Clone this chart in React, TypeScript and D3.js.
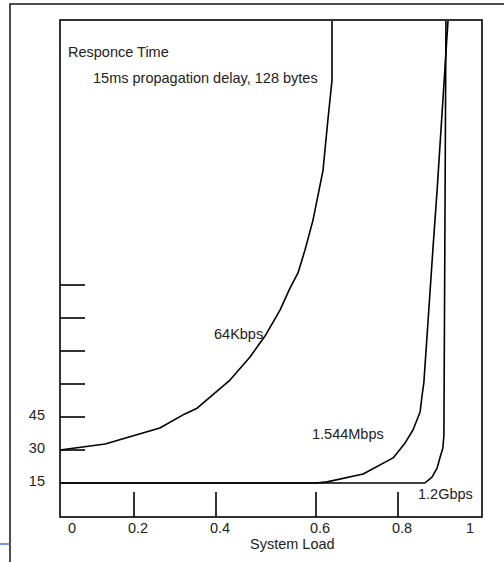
import { useRef, useEffect } from 'react';
import * as d3 from 'd3';

// System load vs response time (ms)
const load64k = [0, 0.122, 0.263, 0.324, 0.354, 0.428, 0.468, 0.498, 0.528, 0.548, 0.564, 0.578, 0.594, 0.617, 0.629, 0.639, 0.639];
const resp64k = [30, 32.7, 40, 46.4, 49, 61.8, 72.3, 81.8, 93.6, 103.6, 110.5, 120.9, 134.5, 157, 180, 198, 225];

const loadT1 = [0, 0.6, 0.627, 0.715, 0.788, 0.821, 0.844, 0.865, 0.871, 0.876, 0.888, 0.903, 0.915, 0.947];
const respT1 = [15, 15, 15.5, 19.1, 26.4, 33.2, 39.1, 47.3, 55, 60.5, 87.7, 122, 148, 225];

const loadGig = [0, 0.879, 0.9, 0.915, 0.924, 0.932, 0.935, 0.941];
const respGig = [15, 15, 17.7, 21.8, 26.8, 30.9, 36.8, 225];

const xTicks = [0, 0.2, 0.4, 0.6, 0.8, 1];
const xTickMarks = [0.2, 0.4, 0.6, 0.8];
const yTickMarks = [30, 45, 60, 75, 90, 105];
const yTickLabels = [15, 30, 45];

const series = [
  { name: '64Kbps', load: load64k, resp: resp64k },
  { name: '1.544Mbps', load: loadT1, resp: respT1 },
  { name: '1.2Gbps', load: loadGig, resp: respGig },
];

const W = 504;
const H = 562;
const FONT = '"Liberation Sans", Arial, sans-serif';
const FS = 14.5;

export default function App() {
  const svgRef = useRef<SVGSVGElement>(null);

  useEffect(() => {
    if (!svgRef.current) return;
    const svg = d3.select(svgRef.current);
    svg.selectAll('*').remove();

    const frame = { left: 60, top: 20, right: 482, bottom: 517 };

    // hand-placed slide axis: piecewise x scale to follow the drawn ticks
    const x = d3.scaleLinear()
      .domain(xTicks)
      .range([60, 134, 216, 316, 398, 466]);
    const y = d3.scaleLinear().domain([0, 225]).range([516, 21]);

    // outer slide frame + stray blue rule
    svg.append('rect')
      .attr('x', 10).attr('y', 4)
      .attr('width', W).attr('height', H)
      .attr('fill', 'none').attr('stroke', '#222').attr('stroke-width', 1.6);
    svg.append('line')
      .attr('x1', 0).attr('x2', 10).attr('y1', 544).attr('y2', 544)
      .attr('stroke', '#4a72e0').attr('stroke-width', 1.5);

    // plot frame
    svg.append('rect')
      .attr('x', frame.left).attr('y', frame.top)
      .attr('width', frame.right - frame.left)
      .attr('height', frame.bottom - frame.top)
      .attr('fill', 'none').attr('stroke', '#000').attr('stroke-width', 1.6);

    // x tick marks
    svg.selectAll('.xtick')
      .data(xTickMarks)
      .enter()
      .append('line')
      .attr('x1', (d) => x(d)).attr('x2', (d) => x(d))
      .attr('y1', 492).attr('y2', frame.bottom)
      .attr('stroke', '#000').attr('stroke-width', 1.6);

    // labels sit a little right of their marks on the slide
    svg.selectAll('.xlabel')
      .data(xTicks)
      .enter()
      .append('text')
      .attr('x', (d) => x(d) + (d === 0 ? 12 : 4))
      .attr('y', 533)
      .attr('text-anchor', 'middle')
      .attr('font-family', FONT).attr('font-size', FS).attr('fill', '#222')
      .text((d) => String(d));

    // y tick marks
    svg.selectAll('.ytick')
      .data(yTickMarks)
      .enter()
      .append('line')
      .attr('x1', frame.left).attr('x2', 85)
      .attr('y1', (d) => y(d)).attr('y2', (d) => y(d))
      .attr('stroke', '#000').attr('stroke-width', 1.6);

    svg.selectAll('.ylabel')
      .data(yTickLabels)
      .enter()
      .append('text')
      .attr('x', 45)
      .attr('y', (d) => y(d) + 3)
      .attr('text-anchor', 'end')
      .attr('font-family', FONT).attr('font-size', FS).attr('fill', '#222')
      .text((d) => String(d));

    // curves
    const line = d3.line<[number, number]>()
      .x((d) => x(d[0]))
      .y((d) => y(d[1]));

    series.forEach((s) => {
      const pts = s.load.map((l, i) => [l, s.resp[i]] as [number, number]);
      svg.append('path')
        .attr('d', line(pts))
        .attr('fill', 'none')
        .attr('stroke', '#000')
        .attr('stroke-width', 1.6)
        .attr('stroke-linejoin', 'round');
    });

    const txt = (tx: number, ty: number, s: string) =>
      svg.append('text')
        .attr('x', tx).attr('y', ty)
        .attr('font-family', FONT).attr('font-size', FS).attr('fill', '#222')
        .text(s);

    txt(68, 57, 'Responce Time');
    txt(93, 83, '15ms propagation delay, 128 bytes');
    txt(214, 339, '64Kbps');
    txt(312, 439, '1.544Mbps');
    txt(418, 499, '1.2Gbps');
    txt(250, 549, 'System Load');
  }, []);

  return (
    <svg
      ref={svgRef}
      width={W}
      height={H}
      style={{ position: 'absolute', left: 0, top: 0, display: 'block', background: '#fff' }}
    />
  );
}
